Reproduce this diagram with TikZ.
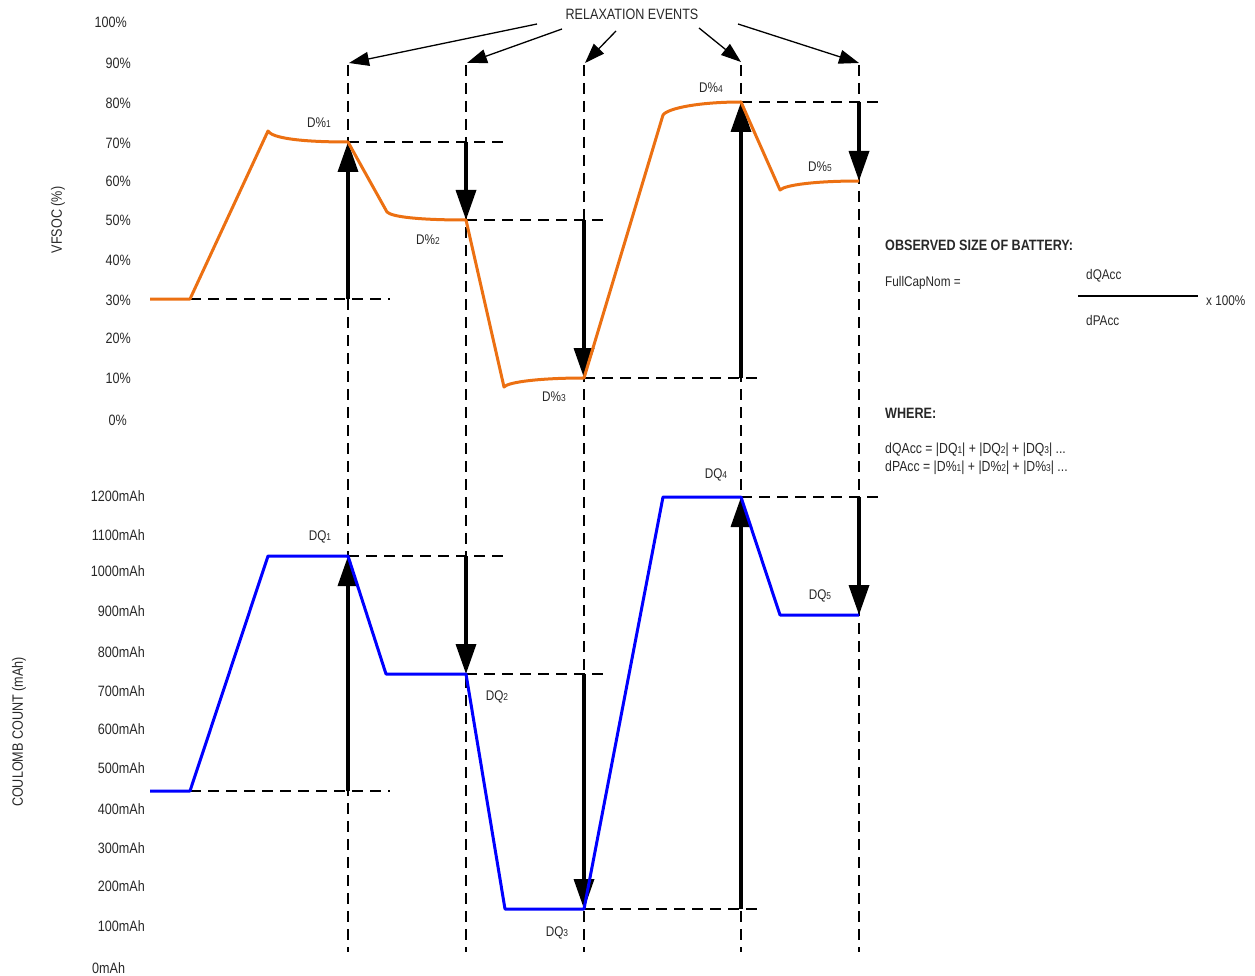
\documentclass[tikz,border=0pt]{standalone}
\usepackage{fontspec}
\setmainfont{Liberation Sans}[FakeStretch=0.84]
\usetikzlibrary{arrows.meta}
\definecolor{orng}{RGB}{236,112,18}
\definecolor{txt}{RGB}{40,40,40}
\newcommand\mysub[1]{{\fontsize{10}{10}\selectfont #1}}
\tikzset{
  lbl/.style={font=\fontsize{15}{17}\selectfont, text=txt, inner sep=0pt},
  sml/.style={font=\fontsize{14}{16}\selectfont, text=txt, inner sep=0pt},
  guide/.style={dash pattern=on 11pt off 7pt, line width=1.2pt},
  bigarrow/.style={line width=3.5pt, -{Triangle[length=30pt,width=20pt]}},
  evarrow/.style={line width=1.3pt, -{Triangle[length=20pt,width=14pt]}},
  soc/.style={orng, line width=3pt, line join=round},
  cc/.style={blue, line width=3pt, line join=round},
}
\begin{document}
\begin{tikzpicture}[x=1pt,y=-1pt]
\useasboundingbox (0,0) rectangle (1255,976);
% ---------- key points: SOC curve
\coordinate (S0) at (150,299); \coordinate (S1) at (190,299); \coordinate (S2) at (268,131);
\coordinate (E1) at (348,142); \coordinate (S3) at (387,212); \coordinate (E2) at (466,220);
\coordinate (S4) at (504,387); \coordinate (E3) at (584,378); \coordinate (S5) at (663,115);
\coordinate (E4) at (741,102); \coordinate (S6) at (780,190); \coordinate (E5) at (859,181);
% ---------- key points: coulomb count
\coordinate (Q0) at (150,791); \coordinate (Q1) at (190,791); \coordinate (Q2) at (268,556);
\coordinate (F1) at (348,556); \coordinate (Q3) at (386,674); \coordinate (F2) at (466,674);
\coordinate (Q4) at (505,909); \coordinate (F3) at (584,909); \coordinate (Q5) at (663,497);
\coordinate (F4) at (741,497); \coordinate (Q6) at (780,615); \coordinate (F5) at (859,615);
% ---------- vertical guides (relaxation events)
\foreach \x/\n in {348/1,466/2,584/3,741/4,859/5}{
  \coordinate (vt\n) at (\x,65); \coordinate (vb\n) at (\x,952);
  \draw[guide] (vt\n) -- (vb\n);
}
% ---------- horizontal guides
\draw[guide] (S1) -- ++(200,0);
\draw[guide] (E1) -- ++(157,0);
\draw[guide] (E2) -- ++(138,0);
\draw[guide] (E3) -- ++(178,0);
\draw[guide] (E4) -- ++(139,0);
\draw[guide] (Q1) -- ++(200,0);
\draw[guide] (F1) -- ++(157,0);
\draw[guide] (F2) -- ++(138,0);
\draw[guide] (F3) -- ++(178,0);
\draw[guide] (F4) -- ++(139,0);
% ---------- thick arrows
\draw[bigarrow] (E1 |- S1) -- (E1);
\draw[bigarrow] (E2 |- E1) -- (E2);
\draw[bigarrow] (E3 |- E2) -- (E3);
\draw[bigarrow] (E4 |- E3) -- (E4);
\draw[bigarrow] (E5 |- E4) -- (E5);
\draw[bigarrow] (F1 |- Q1) -- (F1);
\draw[bigarrow] (F2 |- F1) -- (F2);
\draw[bigarrow] (F3 |- F2) -- (F3);
\draw[bigarrow] (F4 |- F3) -- (F4);
\draw[bigarrow] (F5 |- F4) -- (F5);
% ---------- curves
\draw[soc] (S0) -- (S1) -- (S2)
  .. controls (272,138) and (300,142) .. (E1) -- (S3)
  .. controls (392,217) and (420,220) .. (E2) -- (S4)
  .. controls (508,382) and (540,378) .. (E3) -- (S5)
  .. controls (668,108) and (700,102) .. (E4) -- (S6)
  .. controls (785,185) and (815,181) .. (E5);
\draw[cc] (Q0) -- (Q1) -- (Q2) -- (F1) -- (Q3) -- (F2) -- (Q4) -- (F3) -- (Q5) -- (F4) -- (Q6) -- (F5);
% ---------- relaxation events
\node[lbl] (rel) at (632,14) {RELAXATION EVENTS};
\coordinate (r1) at (537,24); \coordinate (r2) at (562,29); \coordinate (r3) at (616,31);
\coordinate (r4) at (699,28); \coordinate (r5) at (738,24);
\draw[evarrow] (r1) -- (349,63);
\draw[evarrow] (r2) -- (467,63);
\draw[evarrow] (r3) -- (585,63);
\draw[evarrow] (r4) -- (741,62);
\draw[evarrow] (r5) -- (859,63);
% ---------- axis labels
\node[lbl,rotate=90] (yl1) at (58,220) {VFSOC (\%)};
\node[lbl,rotate=90] (yl2) at (19,732) {COULOMB COUNT (mAh)};
\node[lbl,anchor=east] (p100) at (127,22) {100\%};
\foreach \v/\y in {90/63,80/103,70/143,60/181,50/220,40/260,30/300,20/338,10/378}{
  \node[lbl,anchor=east] (p\v) at (131,\y) {\v\%};
}
\node[lbl,anchor=east] (p0) at (127,420) {0\%};
\foreach \v/\y in {1200/496,1100/535,1000/571,900/611,800/652,700/691,600/729,500/768,400/809,300/848,200/886,100/926}{
  \node[lbl,anchor=east] (m\v) at (145,\y) {\v mAh};
}
\node[lbl,anchor=west] (m0) at (92,968) {0mAh};
% ---------- delta labels
\node[sml] (d1) at (319,123) {D\%\mysub{1}};
\node[sml] (d2) at (428,240) {D\%\mysub{2}};
\node[sml] (d3) at (554,397) {D\%\mysub{3}};
\node[sml] (d4) at (711,88) {D\%\mysub{4}};
\node[sml] (d5) at (820,167) {D\%\mysub{5}};
\node[sml] (q1) at (320,537) {DQ\mysub{1}};
\node[sml] (q2) at (497,697) {DQ\mysub{2}};
\node[sml] (q3) at (557,933) {DQ\mysub{3}};
\node[sml] (q4) at (716,475) {DQ\mysub{4}};
\node[sml] (q5) at (820,596) {DQ\mysub{5}};
% ---------- formula block
\node[lbl,anchor=west,font=\fontsize{15}{17}\bfseries] (obs) at (885,245) {OBSERVED SIZE OF BATTERY:};
\node[sml,anchor=west] (fcn) at (885,283) {FullCapNom =};
\node[sml,anchor=west] (num) at (1086,276) {dQAcc};
\node[sml,anchor=west] (den) at (1086,320) {dPAcc};
\coordinate (fl) at (1078,296); \coordinate (fr) at (1198,296);
\draw[line width=2.5pt] (fl) -- (fr);
\node[sml,anchor=west] (pct) at (1206,301) {x 100\%};
\node[lbl,anchor=west,font=\fontsize{15}{17}\bfseries] (wh) at (885,413) {WHERE:};
\node[sml,anchor=west,font=\fontsize{14.6}{16}\selectfont] (w1) at (885,450) {dQAcc = |DQ\mysub{1}| + |DQ\mysub{2}| + |DQ\mysub{3}| ...};
\node[sml,anchor=west,font=\fontsize{14.6}{16}\selectfont] (w2) at (885,468) {dPAcc = |D\%\mysub{1}| + |D\%\mysub{2}| + |D\%\mysub{3}| ...};
\end{tikzpicture}
\end{document}
